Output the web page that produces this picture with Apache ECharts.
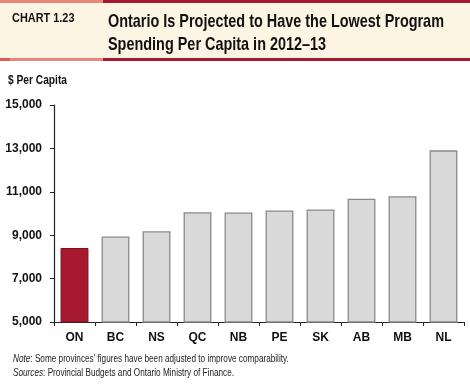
<!DOCTYPE html>
<html><head><meta charset="utf-8">
<script src="https://cdn.jsdelivr.net/npm/echarts@6/dist/echarts.min.js"></script>
<style>html,body{margin:0;padding:0;background:#fff}#c{width:470px;height:390px}</style>
</head><body><div id="c"></div>
<script>
const categories = ['ON','BC','NS','QC','NB','PE','SK','AB','MB','NL'];
const values = [8410, 8940, 9180, 10060, 10050, 10140, 10190, 10680, 10800, 12910];
const yTicks = [5000, 7000, 9000, 11000, 13000, 15000];
const highlight = 'ON';

const chart = echarts.init(document.getElementById('c'), null, {renderer:'canvas'});
const F = '"Liberation Sans",Arial,sans-serif';
chart.setOption({
  animation:false,
  backgroundColor:'#fff',
  graphic:[
    {type:'rect', shape:{x:0,y:0,width:470,height:60}, style:{fill:'#fdf5e3'}, z:0},
    {type:'rect', shape:{x:0,y:0,width:103,height:3}, style:{fill:'#e8877a'}},
    {type:'rect', shape:{x:103,y:0,width:367,height:3}, style:{fill:'#a6192e'}},
    {type:'rect', shape:{x:0,y:58,width:10,height:3}, style:{fill:'#d9604f'}},
    {type:'rect', shape:{x:10,y:58,width:93,height:3}, style:{fill:'#e8877a'}},
    {type:'rect', shape:{x:103,y:58,width:367,height:3}, style:{fill:'#a6192e'}},
    {type:'text', x:12, y:12, scaleX:0.84, style:{text:'CHART 1.23', font:'bold 13px '+F, fill:'#111'}},
    {type:'text', x:108, y:10, scaleX:0.78, style:{text:'Ontario Is Projected to Have the Lowest Program\nSpending Per Capita in 2012–13', font:'bold 18.5px '+F, lineHeight:23, fill:'#111'}},
    {type:'text', x:8, y:75, scaleX:0.85, style:{text:'$ Per Capita', font:'bold 12px '+F, fill:'#111'}},
    {type:'text', x:13, y:352, scaleX:0.82, style:{rich:{i:{fontStyle:'italic',fontSize:10,fontFamily:F,fill:'#222'},n:{fontSize:10,fontFamily:F,fill:'#222'}}, text:'{i|Note}{n|: Some provinces\' figures have been adjusted to improve comparability.}\n{i|Sources}{n|: Provincial Budgets and Ontario Ministry of Finance.}', lineHeight:14}}
  ],
  grid:{left:54, right:6, top:105, bottom:68, containLabel:false},
  xAxis:{type:'category', data:categories,
    axisLine:{lineStyle:{color:'#222', width:1.2}},
    axisTick:{show:true, alignWithLabel:false, length:4, lineStyle:{color:'#222'}},
    axisLabel:{color:'#111', fontWeight:'bold', fontSize:12, fontFamily:F, margin:10}
  },
  yAxis:{type:'value', min:5000, max:15000, interval:2000,
    axisLine:{show:true, lineStyle:{color:'#222', width:1.2}},
    axisTick:{show:true, length:4, lineStyle:{color:'#222'}},
    splitLine:{show:false},
    axisLabel:{color:'#111', fontWeight:'bold', fontSize:12, fontFamily:F, margin:12,
      formatter:v=>yTicks.includes(v)?v.toLocaleString('en-US'):''}
  },
  series:[{type:'bar', barCategoryGap:'32%',
    data:values.map((v,i)=>({value:v, itemStyle: categories[i]===highlight?{color:'#a6192e',borderColor:'#7a1020',borderWidth:1}:{color:'#d9d9d9',borderColor:'#8a8a8a',borderWidth:1.3}}))
  }]
});
</script></body></html>
